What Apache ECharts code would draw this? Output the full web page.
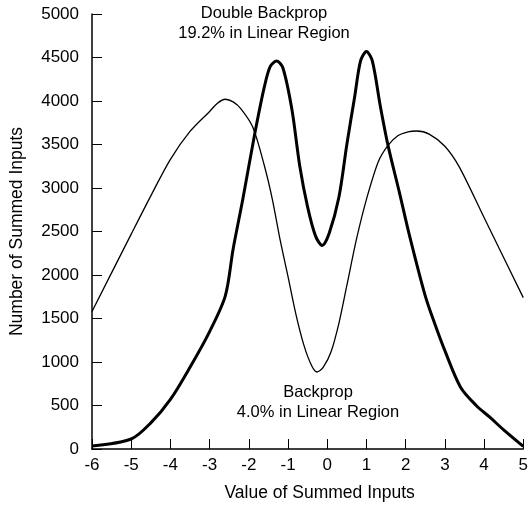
<!DOCTYPE html>
<html>
<head>
<meta charset="utf-8">
<script src="https://cdn.jsdelivr.net/npm/echarts@6/dist/echarts.min.js"></script>
<style>
html,body{margin:0;padding:0;background:#fff;}
#chart{width:531px;height:507px;}
</style>
</head>
<body>
<div id="chart"></div>
<script>
// Backprop (thin line)
const backpropX = [-6, -5, -4.5, -4, -3.5, -3, -2.8, -2.6, -2.4, -2.2, -1.9, -1.6, -1.4, -1.2, -1.0, -0.8, -0.6, -0.4, -0.26, -0.1, 0.1, 0.3, 0.5, 0.75, 1.0, 1.3, 1.55, 1.8, 2.06, 2.28, 2.6, 3.0, 3.37, 4.0, 5.0];
const backpropY = [1580, 2470, 2910, 3330, 3650, 3880, 3975, 4020, 3990, 3910, 3700, 3250, 2870, 2400, 1980, 1550, 1200, 960, 885, 940, 1120, 1450, 1880, 2420, 2870, 3300, 3490, 3600, 3645, 3655, 3620, 3480, 3240, 2660, 1740];
// Double Backprop (thick line)
const doubleX = [-6, -5, -4.5, -4, -3.5, -3, -2.6, -2.4, -2.15, -1.85, -1.6, -1.45, -1.29, -1.13, -0.9, -0.7, -0.5, -0.3, -0.13, 0.05, 0.3, 0.5, 0.7, 0.85, 1.0, 1.15, 1.35, 1.55, 1.84, 2.1, 2.5, 2.75, 3.0, 3.4, 3.8, 4.16, 4.5, 5.0];
const doubleY = [35, 115, 300, 570, 940, 1350, 1760, 2300, 2880, 3620, 4170, 4400, 4460, 4380, 3900, 3250, 2780, 2450, 2340, 2480, 2900, 3500, 4050, 4460, 4570, 4460, 3950, 3490, 2950, 2450, 1760, 1430, 1130, 710, 500, 360, 220, 30];
const xTicks = { min: -6, max: 5, step: 1 };
const yTicks = { min: 0, max: 5000, step: 500 };

const pair = (xs, ys) => xs.map((x, i) => [x, ys[i]]);
const FONT = 'Liberation Sans, Arial, Helvetica, sans-serif';
const chart = echarts.init(document.getElementById('chart'), null, {renderer: 'canvas'});
chart.setOption({
  animation: false,
  backgroundColor: '#fff',
  textStyle: {fontFamily: FONT, color: '#000'},
  grid: {left: 91, right: 4, top: 14, bottom: 55},
  xAxis: {
    type: 'value', min: xTicks.min, max: xTicks.max, interval: xTicks.step,
    name: 'Value of Summed Inputs', nameLocation: 'middle', nameGap: 35,
    nameTextStyle: {fontSize: 17.5, color: '#000', fontFamily: FONT, padding: [0, 0, 0, 24]},
    axisLine: {show: true, onZero: false, lineStyle: {color: '#000', width: 1.5}},
    axisTick: {show: true, inside: true, length: 10, lineStyle: {color: '#000', width: 1}},
    axisLabel: {fontSize: 17, color: '#000', margin: 8, fontFamily: FONT, formatter: v => String(v)},
    splitLine: {show: false}
  },
  yAxis: {
    type: 'value', min: yTicks.min, max: yTicks.max, interval: yTicks.step,
    name: 'Number of Summed Inputs', nameLocation: 'middle', nameGap: 66,
    nameTextStyle: {fontSize: 17.5, color: '#000', fontFamily: FONT},
    axisLine: {show: true, onZero: false, lineStyle: {color: '#000', width: 1.5}},
    axisTick: {show: true, inside: true, length: 10, lineStyle: {color: '#000', width: 1}},
    axisLabel: {fontSize: 17, color: '#000', margin: 13, fontFamily: FONT, formatter: v => String(v)},
    splitLine: {show: false}
  },
  series: [
    {
      name: 'Backprop', type: 'line', data: pair(backpropX, backpropY),
      smooth: 0.3, symbol: 'none', lineStyle: {color: '#000', width: 1.3}
    },
    {
      name: 'Double Backprop', type: 'line', data: pair(doubleX, doubleY),
      smooth: 0.3, symbol: 'none', lineStyle: {color: '#000', width: 3}
    }
  ],
  graphic: [
    {type: 'text', x: 264, y: 23, style: {text: 'Double Backprop\n19.2% in Linear Region', font: '16.5px ' + FONT, fill: '#000', align: 'center', verticalAlign: 'middle', lineHeight: 20}},
    {type: 'text', x: 318, y: 402, style: {text: 'Backprop\n4.0% in Linear Region', font: '16.5px ' + FONT, fill: '#000', align: 'center', verticalAlign: 'middle', lineHeight: 20}}
  ]
});
</script>
</body>
</html>
